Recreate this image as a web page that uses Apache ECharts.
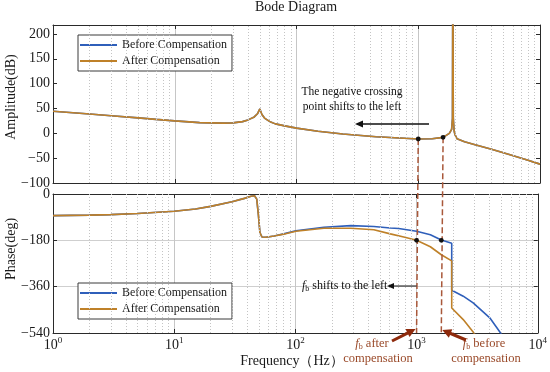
<!DOCTYPE html>
<html><head><meta charset="utf-8">
<script src="https://cdn.jsdelivr.net/npm/echarts@6/dist/echarts.min.js"></script>
<style>html,body{margin:0;padding:0;background:#fff}#c{width:550px;height:372px}</style>
</head><body><div id="c"></div>
<script>
// ---------------- data ----------------
const seriesNames = ['Before Compensation', 'After Compensation'];
const ampFreq   = [1,2,3,5,7,10,16,25,30,36,40,45,48,50,52,55,60,67,80,100,150,240,450,700,1000,1300,1600,1800,1880,1910,1925,1940,1970,2000,2080,2400,2930,4000,5500,7500,10000];
const ampBefore = [44.4,39,35.5,31,28,25,21.5,20.5,21,23.5,27,33,40,49,38,30,24,19,15,10.5,4,-1.5,-7,-9.5,-11.4,-10.8,-8.1,0,8,30,400,30,5,-2,-11,-17,-23,-32,-42,-52,-62];
const ampAfter  = [44.4,39,35.5,31,28,25,21.5,20.5,21,23.5,27,33,40,49,38,30,24,19,15,10.5,4,-1.5,-7,-9.5,-11.4,-10.8,-8.1,0,8,30,400,30,5,-2,-11,-17,-23,-32,-42,-52,-62];
const phaseFreqBefore = [1,2,3,5,10,15,20,30,38,43,46,48,49.5,51,53,57,67,80,101,172,287,444,607,712,1000,1300,1600,1950,1951,2427,2931,4018,5200];
const phaseBefore     = [-84,-82,-80,-76,-67,-58,-48,-30,-17,-9,-7,-20,-80,-150,-167,-168,-163,-155,-143,-129,-123,-126,-132,-134,-145,-158,-179,-191,-374,-397,-423,-481,-555];
const phaseFreqAfter  = [1,2,3,5,10,15,20,30,38,43,46,48,49.5,51,53,57,67,80,101,172,287,444,607,800,1000,1300,1600,1950,1951,2427,2931,3100];
const phaseAfter      = [-84,-82,-80,-76,-67,-58,-48,-30,-17,-9,-7,-20,-80,-150,-167,-168,-163,-156,-145,-133,-133,-139,-155,-168,-180,-205,-236,-260,-443,-488,-536,-552];
const markFreq  = [1000, 1600];      // f_b after / before compensation
const markAmp   = [-11.4, -8.1];
const markPhase = [-180, -180];
const ampTicks   = {min:-100, max:218, step:50};
const phaseTicks = {min:-540, max:0, step:180};
const freqRange  = {min:1, max:10000};

// ---------------- helpers ----------------
const serif = 'Liberation Serif, "Times New Roman", serif';
const BLUE = '#2f5fba', ORANGE = '#bf8129', AX = '#2a2a2a', DASH = '#a9583a', RED = '#8e2a0c', TXTRED = '#9a4a2a';
const pairs = (xs, ys) => xs.map((x, i) => [x, ys[i]]);
const minus = v => (v < 0 ? '\u2212' + Math.abs(v) : String(v));
const minorFreqs = [];
for (let d = 1; d < freqRange.max; d *= 10) for (let k = 2; k <= 9; k++) minorFreqs.push(k * d);

function xAxis(gi, pos, showLabel) {
  return {
    type: 'log', logBase: 10, min: freqRange.min, max: freqRange.max, gridIndex: gi, position: pos,
    axisLine: {show: true, onZero: false, lineStyle: {color: AX, width: 1}},
    axisTick: {show: true, inside: true, length: 4, lineStyle: {color: AX}},
    axisLabel: {show: showLabel, margin: 3,
      formatter: v => '{b|10}{s|' + Math.round(Math.log10(v)) + '}',
      rich: {b: {fontFamily: serif, fontSize: 14, color: '#1a1a1a'},
             s: {fontFamily: serif, fontSize: 9, color: '#1a1a1a', padding: [0, 0, 9, 0]}}},
    splitLine: {show: pos === 'bottom', lineStyle: {color: '#c6c6c6', width: 1}},
    minorTick: {show: false}
  };
}
function yAxis(gi, pos, t, showLabel, split) {
  return {
    type: 'value', gridIndex: gi, position: pos, min: t.min, max: t.max, interval: t.step,
    axisLine: {show: true, onZero: false, lineStyle: {color: AX, width: 1}},
    axisTick: {show: true, inside: true, length: 4, lineStyle: {color: AX}},
    axisLabel: {show: showLabel, margin: 3, fontFamily: serif, fontSize: 14, color: '#1a1a1a',
      formatter: v => ((v - t.min) % t.step === 0 ? minus(v) : '')},
    splitLine: {show: split, lineStyle: {color: '#cfcfcf', width: 1}}
  };
}
const minorMark = {
  silent: true, symbol: ['none', 'none'], label: {show: false},
  lineStyle: {color: '#c4c4c4', type: [1, 2], width: 1},
  emphasis: {disabled: true},
  data: minorFreqs.map(f => ({xAxis: f}))
};
const lineBase = {type: 'line', showSymbol: false, symbol: 'none', lineStyle: {width: 1.6}, animation: false, z: 3, clip: true};
const legendBase = {
  orient: 'vertical', left: 78, icon: 'rect', itemWidth: 37, itemHeight: 2, itemGap: 4,
  padding: [4, 5, 4, 2], borderColor: '#3a3a3a', borderWidth: 1, backgroundColor: '#fff',
  textStyle: {fontFamily: serif, fontSize: 12, color: '#1a1a1a'}, selectedMode: false, data: seriesNames
};

const chart = echarts.init(document.getElementById('c'), null, {renderer: 'canvas'});
chart.setOption({
  animation: false,
  backgroundColor: '#fff',
  title: {text: 'Bode Diagram', left: 255, top: 0, padding: 0,
    textStyle: {fontFamily: serif, fontSize: 14, fontWeight: 'normal', color: '#1a1a1a'}},
  legend: [Object.assign({top: 35}, legendBase), Object.assign({top: 283}, legendBase)],
  grid: [{left: 53, top: 25, width: 487, height: 158}, {left: 53, top: 194, width: 487, height: 139}],
  xAxis: [xAxis(0, 'bottom', false), xAxis(0, 'top', false), xAxis(1, 'bottom', true), xAxis(1, 'top', false)],
  yAxis: [yAxis(0, 'left', ampTicks, true, false), yAxis(0, 'right', ampTicks, false, false),
          yAxis(1, 'left', phaseTicks, true, true), yAxis(1, 'right', phaseTicks, false, false)],
  series: [
    Object.assign({}, lineBase, {name: seriesNames[0], xAxisIndex: 0, yAxisIndex: 0, color: BLUE,
      itemStyle: {color: BLUE}, lineStyle: {width: 1.6, color: BLUE}, data: pairs(ampFreq, ampBefore), markLine: minorMark}),
    Object.assign({}, lineBase, {name: seriesNames[1], xAxisIndex: 0, yAxisIndex: 0, color: ORANGE,
      itemStyle: {color: ORANGE}, lineStyle: {width: 1.6, color: ORANGE}, data: pairs(ampFreq, ampAfter)}),
    Object.assign({}, lineBase, {name: seriesNames[0], xAxisIndex: 2, yAxisIndex: 2, color: BLUE,
      itemStyle: {color: BLUE}, lineStyle: {width: 1.6, color: BLUE}, data: pairs(phaseFreqBefore, phaseBefore), markLine: minorMark}),
    Object.assign({}, lineBase, {name: seriesNames[1], xAxisIndex: 2, yAxisIndex: 2, color: ORANGE,
      itemStyle: {color: ORANGE}, lineStyle: {width: 1.6, color: ORANGE}, data: pairs(phaseFreqAfter, phaseAfter)})
  ]
});

// dashed f_b lines and dots, placed through the chart's own scales
const g = [];
markFreq.forEach((f, i) => {
  const p1 = chart.convertToPixel({xAxisIndex: 0, yAxisIndex: 0}, [f, markAmp[i]]);
  const p2 = chart.convertToPixel({xAxisIndex: 2, yAxisIndex: 2}, [f, phaseTicks.min]);
  g.push({type: 'line', z: 10, silent: true, shape: {x1: p1[0], y1: p1[1], x2: p2[0], y2: p2[1]},
    style: {stroke: DASH, lineWidth: 1.5, lineDash: [6, 3]}});
});
markFreq.forEach((f, i) => {
  const a = chart.convertToPixel({xAxisIndex: 0, yAxisIndex: 0}, [f, markAmp[i]]);
  const b = chart.convertToPixel({xAxisIndex: 2, yAxisIndex: 2}, [f, markPhase[i]]);
  [a, b].forEach(p => g.push({type: 'circle', z: 11, silent: true, shape: {cx: p[0], cy: p[1], r: 2.4}, style: {fill: '#111'}}));
});

function arrowPoly(x1, y1, x2, y2, sw, hl, hw) {
  const dx = x2 - x1, dy = y2 - y1, L = Math.hypot(dx, dy), ux = dx / L, uy = dy / L, nx = -uy, ny = ux;
  const bx = x2 - ux * hl, by = y2 - uy * hl;
  return [[x1 + nx * sw / 2, y1 + ny * sw / 2], [bx + nx * sw / 2, by + ny * sw / 2], [bx + nx * hw / 2, by + ny * hw / 2],
          [x2, y2], [bx - nx * hw / 2, by - ny * hw / 2], [bx - nx * sw / 2, by - ny * sw / 2], [x1 - nx * sw / 2, y1 - ny * sw / 2]];
}
const xAfter = chart.convertToPixel({xAxisIndex: 2}, markFreq[0]);
const xBefore = chart.convertToPixel({xAxisIndex: 2}, markFreq[1]);

// top annotation
g.push({type: 'text', z: 12, x: 352, y: 92, style: {text: 'The negative crossing', font: '11.5px ' + serif, fill: '#111', align: 'center', verticalAlign: 'middle'}});
g.push({type: 'text', z: 12, x: 352, y: 107, style: {text: 'point shifts to the left', font: '11.5px ' + serif, fill: '#111', align: 'center', verticalAlign: 'middle'}});
g.push({type: 'polygon', z: 12, shape: {points: arrowPoly(429, 124, 355, 124, 1.3, 8, 7)}, style: {fill: '#111'}});
// f_b shifts
g.push({type: 'text', z: 12, x: 302, y: 286, style: {
  text: '{i|f}{u|b}{n| shifts to the left}', verticalAlign: 'middle', align: 'left',
  rich: {i: {font: 'italic 12px ' + serif, fill: '#111'}, u: {font: '8px ' + serif, fill: '#111', padding: [6, 0, 0, 0]}, n: {font: '12px ' + serif, fill: '#111'}}}});
g.push({type: 'polygon', z: 12, shape: {points: arrowPoly(xAfter, 286, 387, 286, 1.2, 7, 6)}, style: {fill: '#111'}});
// f_b labels
const fbRich = {i: {font: 'italic 12.5px ' + serif, fill: TXTRED}, u: {font: '8px ' + serif, fill: TXTRED, padding: [6, 0, 0, 0]}, n: {font: '12.5px ' + serif, fill: TXTRED}};
g.push({type: 'text', z: 12, x: 372, y: 344, style: {text: '{i|f}{u|b}{n| after}', align: 'center', verticalAlign: 'middle', rich: fbRich}});
g.push({type: 'text', z: 12, x: 378, y: 359, style: {text: 'compensation', font: '12.5px ' + serif, fill: TXTRED, align: 'center', verticalAlign: 'middle'}});
g.push({type: 'text', z: 12, x: 484, y: 344, style: {text: '{i|f}{u|b}{n| before}', align: 'center', verticalAlign: 'middle', rich: fbRich}});
g.push({type: 'text', z: 12, x: 486, y: 359, style: {text: 'compensation', font: '12.5px ' + serif, fill: TXTRED, align: 'center', verticalAlign: 'middle'}});
g.push({type: 'polygon', z: 12, shape: {points: arrowPoly(392, 341, xAfter - 1, 329, 3, 9, 9)}, style: {fill: RED}});
g.push({type: 'polygon', z: 12, shape: {points: arrowPoly(466, 340, xBefore + 1, 330, 3, 9, 9)}, style: {fill: RED}});
// axis names
g.push({type: 'text', z: 12, x: 11, y: 97, rotation: Math.PI / 2, style: {text: 'Amplitude(dB)', font: '14px ' + serif, fill: '#1a1a1a', align: 'center', verticalAlign: 'middle'}});
g.push({type: 'text', z: 12, x: 11, y: 249, rotation: Math.PI / 2, style: {text: 'Phase(deg)', font: '14px ' + serif, fill: '#1a1a1a', align: 'center', verticalAlign: 'middle'}});
g.push({type: 'text', z: 12, x: 292, y: 361, style: {text: 'Frequency\uff08Hz\uff09', font: '14px ' + serif, fill: '#1a1a1a', align: 'center', verticalAlign: 'middle'}});
chart.setOption({graphic: g});
</script></body></html>
